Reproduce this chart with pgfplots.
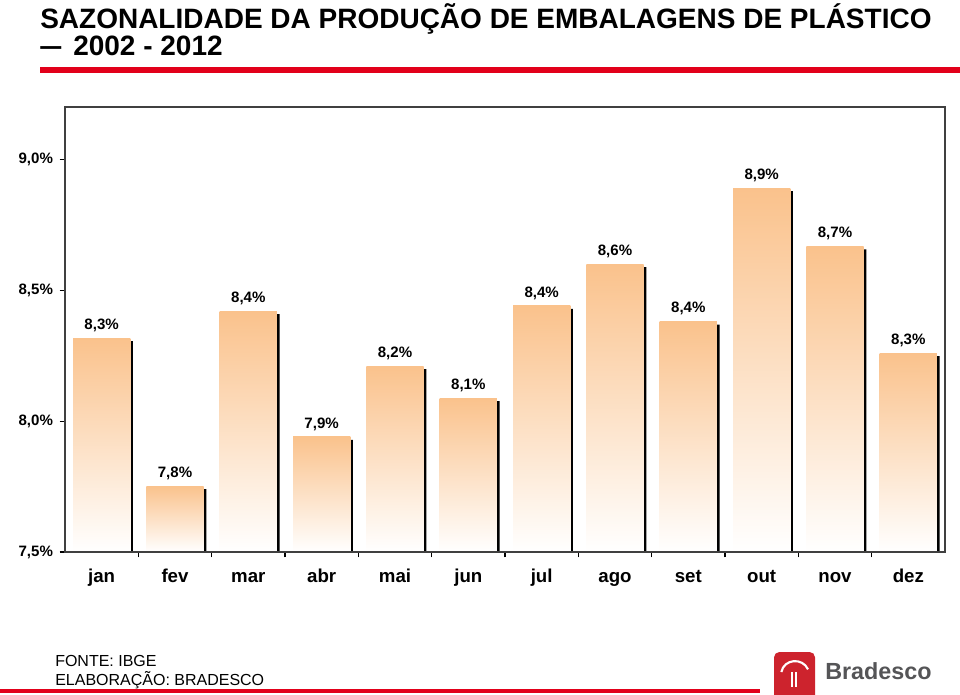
\documentclass[border=0pt]{standalone}
\usepackage{pgfplots}
\pgfplotsset{compat=1.18}
\usepackage{fontspec}
\setmainfont{Liberation Sans}
\definecolor{peach}{RGB}{250,194,140}
\definecolor{bradred}{RGB}{226,0,26}
\definecolor{logored}{RGB}{205,35,45}
\definecolor{logogray}{RGB}{85,85,87}
\pgfkeys{/pgf/number format/assume math mode=true}
\pgfplotsset{
  mybar/.style={ybar, bar width=42.9pt, bar shift=0pt, draw=none,
    top color=peach, middle color=peach!70!white, bottom color=white,
    point meta=rawy,
    nodes near coords={\pgfmathprintnumber[fixed,fixed zerofill,precision=1,use comma]{\pgfplotspointmeta}\%},
    every node near coord/.append style={font=\fontsize{11.3}{13}\selectfont\bfseries, anchor=base, yshift=6.5pt, text=black}},
}
\begin{document}
\begin{tikzpicture}
\useasboundingbox (0,0) rectangle (720pt,-520.5pt);
\node[anchor=base west, inner sep=0, font=\fontsize{21}{25}\selectfont\bfseries] at (30pt,-21pt) {SAZONALIDADE DA PRODUÇÃO DE EMBALAGENS DE PLÁSTICO};
\node[anchor=base west, inner sep=0, font=\fontsize{21}{25}\selectfont\bfseries] at (30pt,-41.25pt) {\makebox[24.75pt][l]{\scalebox{0.75}[1]{—}}2002 - 2012};
\draw[bradred, line width=4pt] (30pt,-52.5pt) -- (720pt,-52.5pt);
\begin{axis}[
  at={(48.75pt,-414pt)}, anchor=south west,
  scale only axis, width=660pt, height=333.75pt,
  xmin=-0.5, xmax=11.5, ymin=0, ymax=1.7,
  y filter/.expression={y-7.5},
  axis on top,
  xtick={0,...,11},
  xticklabels={jan,fev,mar,abr,mai,jun,jul,ago,set,out,nov,dez},
  major x tick style={draw=none},
  minor xtick={0.5,1.5,...,10.5},
  ytick={0,0.5,1,1.5},
  yticklabels={{7,5\%},{8,0\%},{8,5\%},{9,0\%}},
  tick align=outside,
  major tick length=4pt, minor tick length=4pt,
  xtick pos=bottom, ytick pos=left,
  axis line style={black!75, line width=1pt},
  tick style={black, line width=0.8pt},
  xticklabel style={font=\fontsize{14}{16}\selectfont\bfseries, text height=10pt, text depth=3pt, yshift=-5.5pt},
  yticklabel style={font=\fontsize{11.3}{13}\selectfont\bfseries, xshift=-1.5pt},
]
\addplot[ybar, bar width=2pt, bar shift=22.45pt, fill=black, draw=none, yshift=-2.25pt] coordinates {
(0,8.317) (1,7.752) (2,8.42) (3,7.94) (4,8.21) (5,8.088) (6,8.44) (7,8.60) (8,8.38) (9,8.89) (10,8.668) (11,8.26)};
\addplot[mybar] coordinates {(0,8.317)};
\addplot[mybar] coordinates {(1,7.752)};
\addplot[mybar] coordinates {(2,8.42)};
\addplot[mybar] coordinates {(3,7.94)};
\addplot[mybar] coordinates {(4,8.21)};
\addplot[mybar] coordinates {(5,8.088)};
\addplot[mybar] coordinates {(6,8.44)};
\addplot[mybar] coordinates {(7,8.60)};
\addplot[mybar] coordinates {(8,8.38)};
\addplot[mybar] coordinates {(9,8.89)};
\addplot[mybar] coordinates {(10,8.668)};
\addplot[mybar] coordinates {(11,8.26)};
\end{axis}
\node[anchor=base west, inner sep=0, font=\fontsize{12}{14}\selectfont] at (41.25pt,-499.5pt) {FONTE: IBGE};
\node[anchor=base west, inner sep=0, font=\fontsize{12}{14}\selectfont] at (41.25pt,-513.75pt) {ELABORAÇÃO: BRADESCO};
\draw[bradred, line width=3pt] (0,-518.25pt) -- (570pt,-518.25pt);
\fill[logored, rounded corners=4pt] (580.5pt,-489pt) rectangle (611.25pt,-526pt);
\draw[white, line width=1.6pt] (586pt,-504pt) .. controls (588pt,-494pt) and (602pt,-493pt) .. (606pt,-502pt);
\draw[white, line width=1.4pt] (593.7pt,-504pt) -- (593.7pt,-515pt);
\draw[white, line width=1.4pt] (597pt,-504pt) -- (597pt,-515pt);
\node[anchor=base west, inner sep=0, font=\fontsize{17.5}{20}\selectfont\bfseries, text=logogray] at (618.75pt,-509.25pt) {Bradesco};
\end{tikzpicture}
\end{document}
